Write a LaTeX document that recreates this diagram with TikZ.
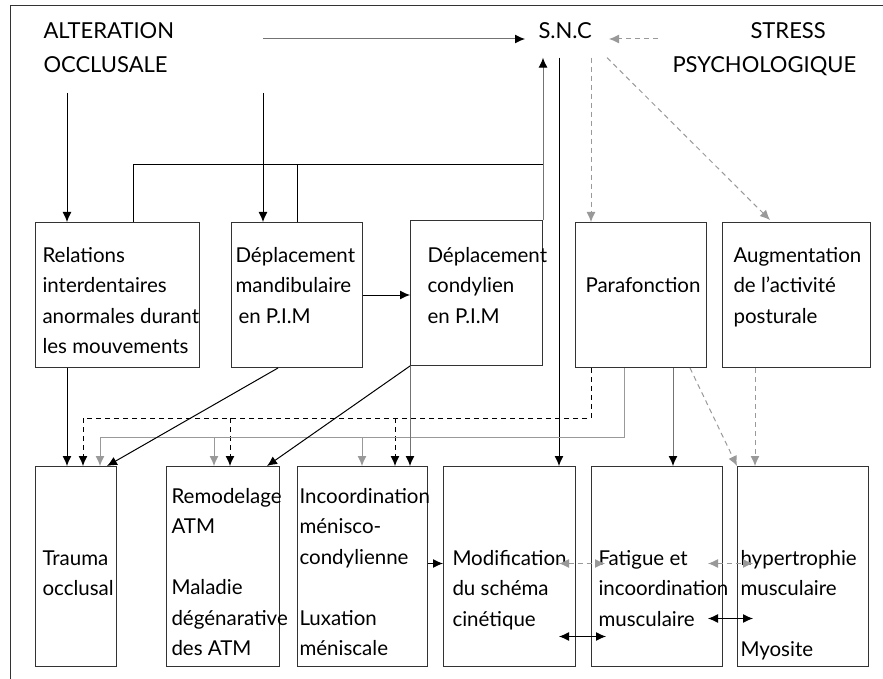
\documentclass[tikz,border=0pt]{standalone}
\usepackage{fontspec}
\setmainfont{Lato}
\usetikzlibrary{arrows.meta}

\begin{document}
\begin{tikzpicture}[x=1pt,y=-1pt,line width=1pt,
    box/.style={draw=black!80,anchor=north west,inner sep=0},
    txt/.style={font=\fontsize{20.5}{30.5}\selectfont,align=left,inner sep=0,anchor=base west},
    head/.style={txt,font=\fontsize{22}{34}\selectfont},
    arr/.style={-{Latex[length=10pt,width=9pt,black]}},
    garr/.style={arr,draw=black!55},
    larr/.style={draw=black!40,-{Latex[length=10pt,width=9pt]}},
    ddash/.style={dash pattern=on 5pt off 4pt},
    gdash/.style={larr,ddash},
    both/.style={{Latex[length=10pt,width=9pt]}-{Latex[length=10pt,width=9pt]}},
    gboth/.style={both,draw=black!40,ddash}]
    \useasboundingbox (0,0) rectangle (883,679);
    \draw[draw=black!80] (890,6) -- (10,6) -- (10,690);

    \node[head] (alt) at (43,73) {ALTERATION\\OCCLUSALE};
    \node[head,inner xsep=13pt,inner ysep=18pt,text width=57pt] (snc) at (525,39) {S.N.C};
    \node[head,inner xsep=14pt] (stress) at (658,73) {\hspace*{78pt}STRESS\\PSYCHOLOGIQUE};

    \node[box,minimum width=164,minimum height=145] (rel) at (35,222) {};
    \node[box,minimum width=131,minimum height=145] (mand) at (231,222) {};
    \node[box,minimum width=132,minimum height=145] (cond) at (410,220) {};
    \node[box,minimum width=131,minimum height=145] (para) at (575,222) {};
    \node[box,minimum width=148,minimum height=145] (aug) at (722,222) {};
    \node[txt] (relt) at (42,353.5) {Relations\\interdentaires\\anormales durant\\les mouvements};
    \node[txt] (mandt) at (235,323) {Déplacement\\mandibulaire\\\hspace*{3pt}en P.I.M};
    \node[txt] (condt) at (427,323) {Déplacement\\condylien\\en P.I.M};
    \node[txt] (parat) at (585,292) {Parafonction};
    \node[txt] (augt) at (733,323) {Augmentation\\de l’activité\\posturale};

    \node[box,minimum width=81,minimum height=200] (trauma) at (35,466) {};
    \node[box,minimum width=113,minimum height=200] (remod) at (166,466) {};
    \node[box,minimum width=130,minimum height=200] (incoord) at (297,466) {};
    \node[box,minimum width=132,minimum height=200] (modif) at (443,466) {};
    \node[box,minimum width=131,minimum height=200] (fatig) at (591,466) {};
    \node[box,minimum width=131,minimum height=200] (hyper) at (737,466) {};
    \node[txt] (traumat) at (42,595.5) {Trauma\\occlusal};
    \node[txt] (remodt) at (171,655.5) {Remodelage\\ATM\\[30.5pt]Maladie\\dégénarative\\des ATM};
    \node[txt] (incoordt) at (299,655.5) {Incoordination\\ménisco-\\condylienne\\[30.5pt]Luxation\\méniscale};
    \node[txt] (modift) at (452,626) {Modification\\du schéma\\cinétique};
    \node[txt] (fatigt) at (598,626) {Fatigue et\\incoordination\\musculaire};
    \node[txt] (hypert) at (740,656.5) {hypertrophie\\musculaire\\[30.5pt]Myosite};

    \coordinate (a0) at (263,39);
    \coordinate (a1) at (67,93);
    \coordinate (a2) at (263,93);
    \coordinate (bar) at (0,165);
    \coordinate (dbus) at (0,418);
    \coordinate (gbus) at (0,437);

    \draw[garr] (a0) -- (snc.base west);
    \draw[gdash] (stress.west |- snc.base) -- (snc.base east);
    \draw[arr] (a1) -- (a1 |- rel.north);
    \draw[arr] (a2) -- (a2 |- mand.north);
    \draw ([xshift=16pt]rel.north) |- (cond.north east |- bar);
    \draw (mand.north) -- (mand.north |- bar);
    \draw[garr] (cond.north east) -- (cond.north east |- snc.south);
    \draw[arr] ([xshift=-17pt]modif.north east |- snc.south) -- ([xshift=-17pt]modif.north east);
    \draw[gdash] ([xshift=16pt]para.north west |- snc.south) -- ([xshift=16pt]para.north west);
    \draw[gdash] ([xshift=32pt]para.north west |- snc.south) -- ([xshift=48pt,yshift=2pt]aug.north west);
    \draw[arr] (mand.east) -- (mand.east -| cond.west);

    \draw[arr] ([xshift=32pt]trauma.north west |- rel.south) -- ([xshift=32pt]trauma.north west);
    \draw[ddash] ([xshift=16pt]para.south west) |- ([xshift=48pt]trauma.north west |- dbus);
    \foreach \b/\dx in {trauma/48,remod/64,incoord/98}
      \draw[arr,ddash] ([xshift=\dx pt]\b.north west |- dbus) -- ([xshift=\dx pt]\b.north west);
    \draw[draw=black!40] ([xshift=49pt]para.south west) |- ([xshift=65pt]trauma.north west |- gbus);
    \foreach \b/\dx in {trauma/65,remod/48,incoord/65}
      \draw[larr] ([xshift=\dx pt]\b.north west |- gbus) -- ([xshift=\dx pt]\b.north west);
    \draw[arr] ([xshift=47pt]mand.south west) -- ([xshift=72pt]trauma.north west);
    \draw[arr] (cond.south west) -- ([xshift=101pt]remod.north west);
    \draw[garr] (cond.south west) -- (cond.south west |- incoord.north);
    \draw[garr] ([xshift=98pt]para.south west) -- ([xshift=98pt]para.south west |- fatig.north);
    \draw[gdash] ([xshift=115pt]para.south west) -- (hyper.north west);
    \draw[gdash] ([xshift=33pt]aug.south west) -- ([xshift=33pt]aug.south west |- hyper.north);

    \draw[arr] ([yshift=3pt]incoord.east) -- ([yshift=3pt]modif.west);
    \draw[gboth] ([xshift=-17pt,yshift=3pt]modif.east) -- ([xshift=14pt,yshift=3pt]fatig.west);
    \draw[gboth] ([xshift=-15pt,yshift=3pt]fatig.east) -- ([xshift=16pt,yshift=3pt]hyper.west);
    \draw[both] ([xshift=-17pt,yshift=-70pt]modif.east) -- ([xshift=15pt,yshift=-70pt]fatig.west);
    \draw[both] ([xshift=-15pt,yshift=-52pt]fatig.east) -- ([xshift=16pt,yshift=-52pt]hyper.west);
\end{tikzpicture}
\end{document}
